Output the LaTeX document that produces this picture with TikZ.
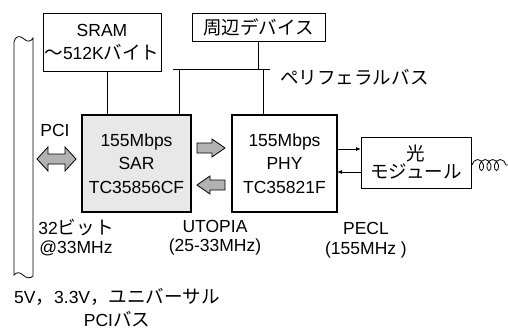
\documentclass[tikz,border=0pt]{standalone}
\usepackage{fontspec}
\setmainfont{Liberation Sans}
\newfontfamily\jp[Scale=1.06]{Noto Sans CJK JP}
\usetikzlibrary{decorations.pathmorphing,arrows.meta}
\begin{document}
\begin{tikzpicture}[x=1pt,y=-1pt,
  every node/.style={font=\fontsize{17.5}{23.5}\selectfont, inner sep=0pt},
  box/.style={draw, line width=0.8pt},
  chip/.style={draw, line width=1.8pt},
  bus/.style={line width=0.8pt},
  blk/.style={draw, line width=0.8pt, fill=gray!60},
  lbl/.style={align=center, font=\fontsize{17.5}{19.5}\selectfont}
]
\useasboundingbox (0,0) rectangle (508,329);

% boxes
\node[box, minimum width=118pt, minimum height=58pt, align=center] (sram) at (102,42) {SRAM\\{\jp ～}512K{\jp バイト}};
\node[box, minimum width=133pt, minimum height=28pt] (peri) at (258.5,27) {\jp 周辺デバイス};
\node[chip, fill=gray!18, minimum width=109pt, minimum height=97pt, align=center] (sar) at (136.5,163.5) {155Mbps\\SAR\\TC35856CF};
\node[chip, fill=white, minimum width=105pt, minimum height=97pt, align=center] (phy) at (284.5,163.5) {155Mbps\\PHY\\TC35821F};
\node[box, minimum width=110pt, minimum height=51pt, align=center, font=\fontsize{17.5}{18}\selectfont] (opt) at (416,162.5) {{\jp 光}\\{\jp モジュール}};

% peripheral bus
\coordinate (busL) at (173,69);
\coordinate (busR) at (270,69);
\draw[bus] (busL) -- (busR);
\draw[bus] (peri.south) -- (peri.south |- busL);
\draw[bus] (179,69) -- (179,115);
\draw[bus] (263,69) -- (263,115);
\draw[bus] (107,71) -- (107,115);
\node[anchor=west] (pbl) at (280,77) {\jp ペリフェラルバス};

% PHY <-> optical module small arrows
\draw[bus, -{Latex[length=5pt,width=4pt]}] (337,149) -- (361,149);
\draw[bus, -{Latex[length=5pt,width=4pt]}] (361,172) -- (337,172);

% fiber coil
\draw[line width=0.8pt, decorate, decoration={coil, segment length=7.5pt, amplitude=5.5pt, aspect=0.7}] (472,165) -- (512,165);

% block arrows between SAR and PHY
\draw[blk] (197,143) -- (212,143) -- (212,139) -- (225,148) -- (212,157) -- (212,153) -- (197,153) -- cycle;
\draw[blk] (225,180) -- (210,180) -- (210,176) -- (197,185) -- (210,194) -- (210,190) -- (225,190) -- cycle;

% PCI double arrow
\draw[blk] (37,159) -- (48,147) -- (48,154) -- (65,154) -- (65,147) -- (76,159) -- (65,171) -- (65,164) -- (48,164) -- (48,171) -- cycle;
\node (pci) at (55,130) {PCI};

% PCI bus bar
\draw[line width=0.8pt] (14,42) .. controls (15,36) and (20,35) .. (24,39) .. controls (27,42) and (31,42) .. (33,38)
  -- (33,276) .. controls (30,279) and (26,278) .. (23,275) .. controls (20,272) and (16,272) .. (14,275) -- cycle;

% labels
\node[lbl] (l32) at (76,237.5) {32{\jp ビット}\\@33MHz};
\node[lbl] (lut) at (215,237.5) {UTOPIA\\(25-33MHz)};
\node[lbl] (lpe) at (366,240) {PECL\\(155MHz )};
\node[anchor=west] (l5v) at (14,297) {5V{\jp ，}3.3V{\jp ，ユニバーサル}};
\node (lpci) at (117,319) {PCI{\jp バス}};
\end{tikzpicture}
\end{document}
